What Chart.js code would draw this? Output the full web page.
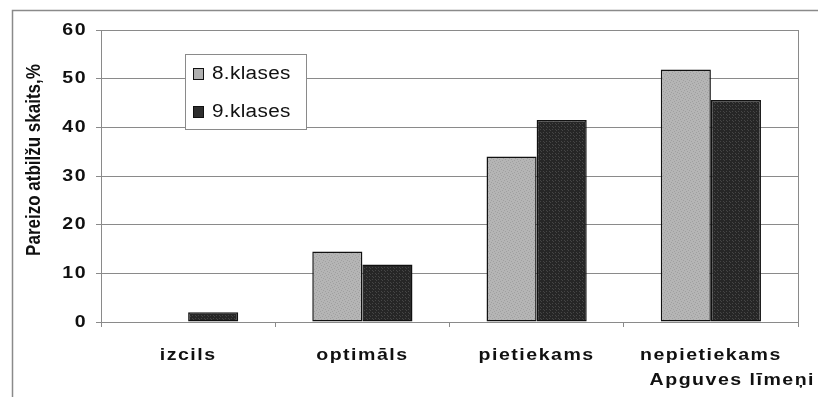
<!DOCTYPE html>
<html>
<head>
<meta charset="utf-8">
<script src="https://cdn.jsdelivr.net/npm/chart.js@4/dist/chart.umd.min.js"></script>
<style>
  html, body { margin: 0; padding: 0; background: #fff; }
  #wrap { position: relative; width: 818px; height: 397px; }
</style>
</head>
<body>
<div id="wrap"><canvas id="c" width="818" height="397"></canvas></div>
<script>
// Apguves līmeņi (achievement levels)
const categories = ['izcils', 'optimāls', 'pietiekams', 'nepietiekams'];
const seriesNames = ['8.klases', '9.klases'];
const grade8 = [0, 14.5, 34.0, 51.9];
const grade9 = [2.0, 11.8, 41.5, 45.6];
const yTicks = [0, 10, 20, 30, 40, 50, 60];
const yTitle = 'Pareizo atbilžu skaits,%';
const xTitle = 'Apguves līmeņi';

const FONT = '"Liberation Sans", Arial, sans-serif';
const WIDEN = 1.15; // horizontal widening of all text glyphs
const INK = '#111111';

// Stippled fills for the two series
function makePattern(base, dot, seed) {
  const p = document.createElement('canvas');
  p.width = 6; p.height = 6;
  const g = p.getContext('2d');
  g.fillStyle = base;
  g.fillRect(0, 0, 6, 6);
  g.fillStyle = dot;
  const pts = seed === 0
    ? [[0,0],[3,1],[1,3],[4,4],[5,2],[2,5]]
    : [[0,0],[3,0],[0,3],[3,3],[1,1],[4,4]];
  pts.forEach(([x, y]) => g.fillRect(x, y, 1, 1));
  return g.createPattern(p, 'repeat');
}
const fill8 = makePattern('#b5b5b5', '#a0a0a0', 0);
const fill9 = makePattern('#262626', '#454545', 1);
const swatch8 = '#b0b0b0';
const swatch9 = '#2e2e2e';

const decor = {
  id: 'decor',
  beforeDraw(chart) {
    const c = chart.ctx;
    if (!c._wideText) {
      const orig = CanvasRenderingContext2D.prototype.fillText;
      c._plainFill = orig;
      c.fillText = function (t, x, y) {
        this.save();
        this.translate(x, y);
        this.scale(WIDEN, 1);
        orig.call(this, t, 0, 0);
        this.restore();
      };
      c._wideText = true;
    }
    c.letterSpacing = '1.3px';
    // outer frame (left and top edges)
    c.save();
    c.strokeStyle = '#8a8a8a';
    c.lineWidth = 1.5;
    c.beginPath();
    c.moveTo(12.5, 397);
    c.lineTo(12.5, 10.5);
    c.lineTo(818, 10.5);
    c.stroke();
    c.restore();
  },
  afterDraw(chart) {
    const c = chart.ctx;
    const a = chart.chartArea;
    c.save();
    // right edge of the plot area
    c.strokeStyle = '#8a8a8a';
    c.lineWidth = 1;
    c.beginPath();
    c.moveTo(Math.round(a.right) + 0.5, a.top);
    c.lineTo(Math.round(a.right) + 0.5, a.bottom);
    c.stroke();

    // y axis title (rotated; glyphs widened across the line direction)
    c.letterSpacing = '0px';
    c.fillStyle = INK;
    c.font = 'bold 17px ' + FONT;
    c.textAlign = 'center';
    c.textBaseline = 'middle';
    c.translate(35, 160);
    c.rotate(-Math.PI / 2);
    c.scale(1, WIDEN);
    c._plainFill.call(c, yTitle, 0, 0);
    c.restore();

    // x axis title, under the last category label
    c.save();
    c.letterSpacing = '1.3px';
    c.fillStyle = INK;
    c.font = 'bold 17px ' + FONT;
    c.textAlign = 'right';
    c.textBaseline = 'middle';
    c.fillText(xTitle, 815, 380);
    c.restore();

    // legend box
    const lx = 185, ly = 54, lw = 121, lh = 75;
    c.save();
    c.fillStyle = '#ffffff';
    c.fillRect(lx, ly, lw, lh);
    c.strokeStyle = '#8a8a8a';
    c.lineWidth = 1;
    c.strokeRect(lx + 0.5, ly + 0.5, lw, lh);
    c.font = '18px ' + FONT;
    c.letterSpacing = '0.3px';
    c.textAlign = 'left';
    c.textBaseline = 'middle';
    const rows = [73, 111];
    chart.data.datasets.forEach((ds, i) => {
      const y = rows[i];
      c.fillStyle = i === 0 ? swatch8 : swatch9;
      c.fillRect(193, y - 5, 10, 11);
      c.strokeStyle = '#111';
      c.lineWidth = 1;
      c.strokeRect(193.5, y - 4.5, 10, 11);
      c.fillStyle = INK;
      c.fillText(ds.label, 212, y + 1);
    });
    c.restore();
  }
};

new Chart(document.getElementById('c'), {
  type: 'bar',
  data: {
    labels: categories,
    datasets: [
      {
        label: seriesNames[0],
        data: grade8,
        backgroundColor: fill8,
        borderColor: '#111',
        borderWidth: (ctx) => (ctx.raw ? 1.5 : 0),
        borderSkipped: false
      },
      {
        label: seriesNames[1],
        data: grade9,
        backgroundColor: fill9,
        borderColor: '#111',
        borderWidth: (ctx) => (ctx.raw ? 1.5 : 0),
        borderSkipped: false
      }
    ]
  },
  options: {
    responsive: false,
    animation: false,
    layout: { padding: { left: 0, top: 30, right: 20, bottom: 0 } },
    categoryPercentage: 0.575,
    barPercentage: 1,
    plugins: {
      legend: { display: false },
      tooltip: { enabled: false }
    },
    scales: {
      x: {
        afterFit(scale) { scale.height = 75; },
        grid: {
          offset: true,
          drawOnChartArea: false,
          drawTicks: true,
          tickLength: 5,
          color: '#8a8a8a'
        },
        border: { display: true, color: '#8a8a8a', width: 1 },
        ticks: {
          autoSkip: false,
          maxRotation: 0,
          minRotation: 0,
          padding: 18,
          color: INK,
          font: { family: FONT, size: 17, weight: 'bold' }
        }
      },
      y: {
        min: 0,
        max: 60,
        afterFit(scale) { scale.width = 101; },
        afterBuildTicks(scale) { scale.ticks = yTicks.map(v => ({ value: v })); },
        grid: {
          color: '#8a8a8a',
          lineWidth: 1,
          drawTicks: true,
          tickLength: 5
        },
        border: { display: true, color: '#8a8a8a', width: 1 },
        ticks: {
          padding: 9,
          color: INK,
          font: { family: FONT, size: 17, weight: 'bold' }
        }
      }
    }
  },
  plugins: [decor]
});
</script>
</body>
</html>
